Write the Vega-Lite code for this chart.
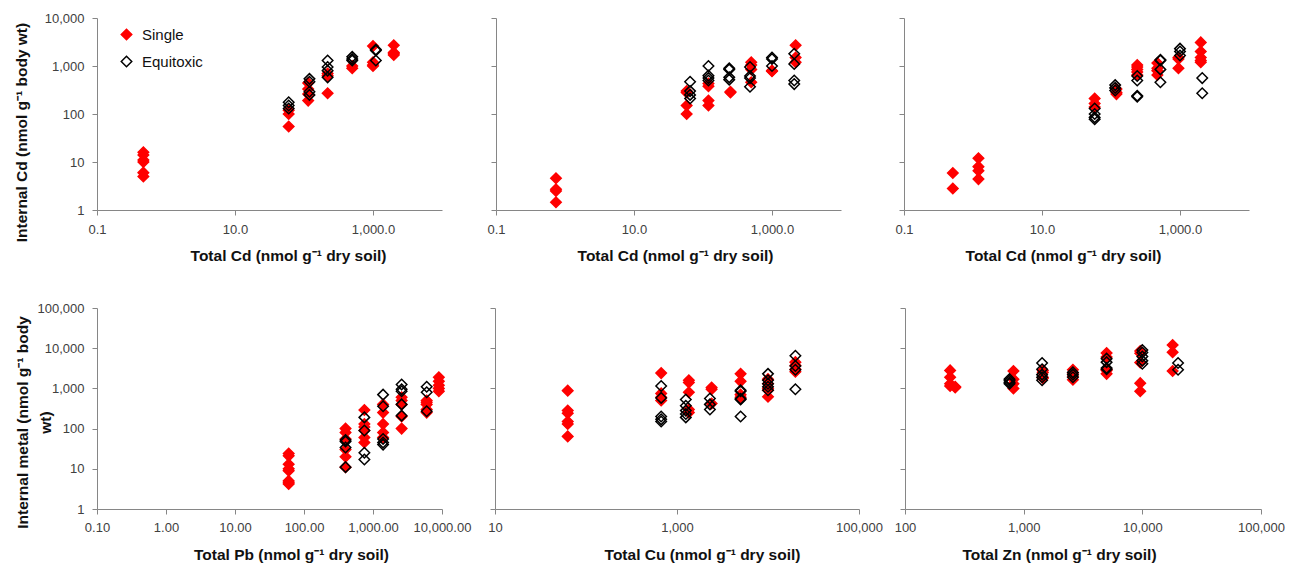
{
  "$schema": "https://vega.github.io/schema/vega-lite/v6.json",
  "background": "white",
  "padding": {"left": 13, "top": 12, "right": 5, "bottom": 0},
  "config": {
    "view": {"stroke": null},
    "font": "Liberation Sans",
    "axis": {
      "grid": false, "domainColor": "#868686", "tickColor": "#868686", "tickSize": 5,
      "labelFont": "Liberation Sans", "labelFontSize": 13, "labelColor": "#404040",
      "titleFont": "Liberation Sans", "titleFontSize": 15.5, "titleFontWeight": "bold", "titleColor": "#111111",
      "labelFlush": false, "labelOverlap": false
    },
    "point": {"shape": "diamond", "size": 110, "strokeWidth": 1.5, "opacity": 1}
  },
  "datasets": {
    "p1": [
      {"x":0.47,"y":16,"g":"Single"},{"x":0.47,"y":14,"g":"Single"},{"x":0.47,"y":11,"g":"Single"},{"x":0.47,"y":10,"g":"Single"},{"x":0.47,"y":6,"g":"Single"},{"x":0.47,"y":5,"g":"Single"},
      {"x":60,"y":120,"g":"Single"},{"x":60,"y":100,"g":"Single"},{"x":60,"y":55,"g":"Single"},
      {"x":115,"y":440,"g":"Single"},{"x":115,"y":330,"g":"Single"},{"x":115,"y":260,"g":"Single"},{"x":115,"y":190,"g":"Single"},
      {"x":220,"y":700,"g":"Single"},{"x":220,"y":630,"g":"Single"},{"x":220,"y":270,"g":"Single"},
      {"x":500,"y":1000,"g":"Single"},{"x":500,"y":900,"g":"Single"},
      {"x":1000,"y":2600,"g":"Single"},{"x":1000,"y":1200,"g":"Single"},{"x":1000,"y":1050,"g":"Single"},{"x":1000,"y":1000,"g":"Single"},
      {"x":2000,"y":2700,"g":"Single"},{"x":2000,"y":1900,"g":"Single"},{"x":2000,"y":1800,"g":"Single"},{"x":2000,"y":1700,"g":"Single"},
      {"x":60,"y":175,"g":"Equitoxic"},{"x":60,"y":150,"g":"Equitoxic"},{"x":60,"y":130,"g":"Equitoxic"},
      {"x":120,"y":540,"g":"Equitoxic"},{"x":120,"y":470,"g":"Equitoxic"},{"x":120,"y":290,"g":"Equitoxic"},{"x":120,"y":250,"g":"Equitoxic"},
      {"x":220,"y":1300,"g":"Equitoxic"},{"x":220,"y":950,"g":"Equitoxic"},{"x":220,"y":800,"g":"Equitoxic"},{"x":220,"y":580,"g":"Equitoxic"},
      {"x":500,"y":1550,"g":"Equitoxic"},{"x":500,"y":1400,"g":"Equitoxic"},{"x":500,"y":1300,"g":"Equitoxic"},
      {"x":1100,"y":2200,"g":"Equitoxic"},{"x":1100,"y":2100,"g":"Equitoxic"},{"x":1100,"y":1300,"g":"Equitoxic"}
    ],
    "p2": [
      {"x":0.74,"y":4.6,"g":"Single"},{"x":0.74,"y":2.7,"g":"Single"},{"x":0.74,"y":2.5,"g":"Single"},{"x":0.74,"y":1.45,"g":"Single"},
      {"x":58,"y":300,"g":"Single"},{"x":58,"y":280,"g":"Single"},{"x":58,"y":150,"g":"Single"},{"x":58,"y":100,"g":"Single"},
      {"x":120,"y":430,"g":"Single"},{"x":120,"y":380,"g":"Single"},{"x":120,"y":190,"g":"Single"},{"x":120,"y":150,"g":"Single"},
      {"x":250,"y":290,"g":"Single"},{"x":250,"y":280,"g":"Single"},
      {"x":500,"y":1200,"g":"Single"},{"x":500,"y":1050,"g":"Single"},{"x":500,"y":850,"g":"Single"},{"x":500,"y":460,"g":"Single"},
      {"x":1000,"y":800,"g":"Single"},{"x":1000,"y":780,"g":"Single"},
      {"x":2200,"y":2700,"g":"Single"},{"x":2200,"y":1500,"g":"Single"},{"x":2200,"y":1200,"g":"Single"},
      {"x":65,"y":470,"g":"Equitoxic"},{"x":65,"y":300,"g":"Equitoxic"},{"x":65,"y":250,"g":"Equitoxic"},{"x":65,"y":210,"g":"Equitoxic"},
      {"x":120,"y":1000,"g":"Equitoxic"},{"x":120,"y":630,"g":"Equitoxic"},{"x":120,"y":560,"g":"Equitoxic"},{"x":120,"y":500,"g":"Equitoxic"},
      {"x":240,"y":900,"g":"Equitoxic"},{"x":240,"y":850,"g":"Equitoxic"},{"x":240,"y":580,"g":"Equitoxic"},{"x":240,"y":520,"g":"Equitoxic"},
      {"x":480,"y":950,"g":"Equitoxic"},{"x":480,"y":620,"g":"Equitoxic"},{"x":480,"y":560,"g":"Equitoxic"},{"x":480,"y":370,"g":"Equitoxic"},
      {"x":1000,"y":1500,"g":"Equitoxic"},{"x":1000,"y":1400,"g":"Equitoxic"},{"x":1000,"y":1000,"g":"Equitoxic"},
      {"x":2100,"y":1800,"g":"Equitoxic"},{"x":2100,"y":1100,"g":"Equitoxic"},{"x":2100,"y":500,"g":"Equitoxic"},{"x":2100,"y":420,"g":"Equitoxic"}
    ],
    "p3": [
      {"x":0.51,"y":5.9,"g":"Single"},{"x":0.51,"y":2.8,"g":"Single"},
      {"x":1.2,"y":12,"g":"Single"},{"x":1.2,"y":8,"g":"Single"},{"x":1.2,"y":6.6,"g":"Single"},{"x":1.2,"y":4.4,"g":"Single"},
      {"x":58,"y":210,"g":"Single"},{"x":58,"y":165,"g":"Single"},{"x":58,"y":140,"g":"Single"},
      {"x":120,"y":330,"g":"Single"},{"x":120,"y":280,"g":"Single"},{"x":120,"y":260,"g":"Single"},
      {"x":240,"y":1050,"g":"Single"},{"x":240,"y":950,"g":"Single"},{"x":240,"y":850,"g":"Single"},{"x":240,"y":750,"g":"Single"},{"x":240,"y":650,"g":"Single"},
      {"x":470,"y":1150,"g":"Single"},{"x":470,"y":900,"g":"Single"},{"x":470,"y":800,"g":"Single"},{"x":470,"y":650,"g":"Single"},
      {"x":950,"y":1500,"g":"Single"},{"x":950,"y":1400,"g":"Single"},{"x":950,"y":900,"g":"Single"},
      {"x":2000,"y":3100,"g":"Single"},{"x":2000,"y":2000,"g":"Single"},{"x":2000,"y":1500,"g":"Single"},{"x":2000,"y":1300,"g":"Single"},{"x":2000,"y":1200,"g":"Single"},
      {"x":58,"y":130,"g":"Equitoxic"},{"x":58,"y":100,"g":"Equitoxic"},{"x":58,"y":85,"g":"Equitoxic"},{"x":58,"y":78,"g":"Equitoxic"},
      {"x":115,"y":400,"g":"Equitoxic"},{"x":115,"y":350,"g":"Equitoxic"},{"x":115,"y":310,"g":"Equitoxic"},
      {"x":240,"y":620,"g":"Equitoxic"},{"x":240,"y":500,"g":"Equitoxic"},{"x":240,"y":240,"g":"Equitoxic"},{"x":240,"y":230,"g":"Equitoxic"},
      {"x":520,"y":1350,"g":"Equitoxic"},{"x":520,"y":1300,"g":"Equitoxic"},{"x":520,"y":850,"g":"Equitoxic"},{"x":520,"y":460,"g":"Equitoxic"},
      {"x":1000,"y":2300,"g":"Equitoxic"},{"x":1000,"y":2000,"g":"Equitoxic"},{"x":1000,"y":1650,"g":"Equitoxic"},
      {"x":2100,"y":560,"g":"Equitoxic"},{"x":2100,"y":270,"g":"Equitoxic"}
    ],
    "p4": [
      {"x":60,"y":24,"g":"Single"},{"x":60,"y":21,"g":"Single"},{"x":60,"y":13,"g":"Single"},{"x":60,"y":10,"g":"Single"},{"x":60,"y":9,"g":"Single"},{"x":60,"y":5,"g":"Single"},{"x":60,"y":4.5,"g":"Single"},{"x":60,"y":4.2,"g":"Single"},
      {"x":400,"y":100,"g":"Single"},{"x":400,"y":80,"g":"Single"},{"x":400,"y":55,"g":"Single"},{"x":400,"y":30,"g":"Single"},{"x":400,"y":20,"g":"Single"},{"x":400,"y":11,"g":"Single"},
      {"x":750,"y":290,"g":"Single"},{"x":750,"y":130,"g":"Single"},{"x":750,"y":110,"g":"Single"},{"x":750,"y":90,"g":"Single"},{"x":750,"y":60,"g":"Single"},{"x":750,"y":45,"g":"Single"},
      {"x":1400,"y":400,"g":"Single"},{"x":1400,"y":250,"g":"Single"},{"x":1400,"y":130,"g":"Single"},{"x":1400,"y":80,"g":"Single"},{"x":1400,"y":60,"g":"Single"},
      {"x":2600,"y":600,"g":"Single"},{"x":2600,"y":500,"g":"Single"},{"x":2600,"y":400,"g":"Single"},{"x":2600,"y":200,"g":"Single"},{"x":2600,"y":100,"g":"Single"},
      {"x":6000,"y":500,"g":"Single"},{"x":6000,"y":450,"g":"Single"},{"x":6000,"y":400,"g":"Single"},{"x":6000,"y":300,"g":"Single"},{"x":6000,"y":250,"g":"Single"},
      {"x":9000,"y":1900,"g":"Single"},{"x":9000,"y":1500,"g":"Single"},{"x":9000,"y":1200,"g":"Single"},{"x":9000,"y":1000,"g":"Single"},{"x":9000,"y":850,"g":"Single"},
      {"x":400,"y":52,"g":"Equitoxic"},{"x":400,"y":48,"g":"Equitoxic"},{"x":400,"y":34,"g":"Equitoxic"},{"x":400,"y":11,"g":"Equitoxic"},
      {"x":750,"y":190,"g":"Equitoxic"},{"x":750,"y":90,"g":"Equitoxic"},{"x":750,"y":25,"g":"Equitoxic"},{"x":750,"y":17,"g":"Equitoxic"},
      {"x":1400,"y":700,"g":"Equitoxic"},{"x":1400,"y":360,"g":"Equitoxic"},{"x":1400,"y":55,"g":"Equitoxic"},{"x":1400,"y":45,"g":"Equitoxic"},{"x":1400,"y":40,"g":"Equitoxic"},
      {"x":2600,"y":1250,"g":"Equitoxic"},{"x":2600,"y":950,"g":"Equitoxic"},{"x":2600,"y":850,"g":"Equitoxic"},{"x":2600,"y":400,"g":"Equitoxic"},{"x":2600,"y":210,"g":"Equitoxic"},
      {"x":6000,"y":1100,"g":"Equitoxic"},{"x":6000,"y":800,"g":"Equitoxic"},{"x":6000,"y":270,"g":"Equitoxic"}
    ],
    "p5": [
      {"x":63,"y":880,"g":"Single"},{"x":63,"y":280,"g":"Single"},{"x":63,"y":240,"g":"Single"},{"x":63,"y":150,"g":"Single"},{"x":63,"y":130,"g":"Single"},{"x":63,"y":64,"g":"Single"},
      {"x":670,"y":2400,"g":"Single"},{"x":670,"y":750,"g":"Single"},{"x":670,"y":600,"g":"Single"},{"x":670,"y":500,"g":"Single"},
      {"x":1350,"y":1600,"g":"Single"},{"x":1350,"y":1400,"g":"Single"},{"x":1350,"y":800,"g":"Single"},{"x":1350,"y":300,"g":"Single"},{"x":1350,"y":250,"g":"Single"},
      {"x":2400,"y":1050,"g":"Single"},{"x":2400,"y":950,"g":"Single"},{"x":2400,"y":420,"g":"Single"},
      {"x":5000,"y":2300,"g":"Single"},{"x":5000,"y":1500,"g":"Single"},{"x":5000,"y":700,"g":"Single"},{"x":5000,"y":600,"g":"Single"},
      {"x":10000,"y":1700,"g":"Single"},{"x":10000,"y":1300,"g":"Single"},{"x":10000,"y":1000,"g":"Single"},{"x":10000,"y":900,"g":"Single"},{"x":10000,"y":620,"g":"Single"},
      {"x":20000,"y":4500,"g":"Single"},{"x":20000,"y":3700,"g":"Single"},{"x":20000,"y":3000,"g":"Single"},{"x":20000,"y":2600,"g":"Single"},
      {"x":670,"y":1150,"g":"Equitoxic"},{"x":670,"y":580,"g":"Equitoxic"},{"x":670,"y":200,"g":"Equitoxic"},{"x":670,"y":170,"g":"Equitoxic"},{"x":670,"y":150,"g":"Equitoxic"},
      {"x":1250,"y":530,"g":"Equitoxic"},{"x":1250,"y":370,"g":"Equitoxic"},{"x":1250,"y":280,"g":"Equitoxic"},{"x":1250,"y":230,"g":"Equitoxic"},{"x":1250,"y":190,"g":"Equitoxic"},
      {"x":2300,"y":560,"g":"Equitoxic"},{"x":2300,"y":400,"g":"Equitoxic"},{"x":2300,"y":300,"g":"Equitoxic"},
      {"x":5000,"y":900,"g":"Equitoxic"},{"x":5000,"y":850,"g":"Equitoxic"},{"x":5000,"y":550,"g":"Equitoxic"},{"x":5000,"y":530,"g":"Equitoxic"},{"x":5000,"y":200,"g":"Equitoxic"},
      {"x":10000,"y":2300,"g":"Equitoxic"},{"x":10000,"y":1600,"g":"Equitoxic"},{"x":10000,"y":1300,"g":"Equitoxic"},{"x":10000,"y":1100,"g":"Equitoxic"},{"x":10000,"y":900,"g":"Equitoxic"},
      {"x":20000,"y":6500,"g":"Equitoxic"},{"x":20000,"y":3600,"g":"Equitoxic"},{"x":20000,"y":2900,"g":"Equitoxic"},{"x":20000,"y":950,"g":"Equitoxic"}
    ],
    "p6": [
      {"x":240,"y":2800,"g":"Single"},{"x":240,"y":1900,"g":"Single"},{"x":240,"y":1300,"g":"Single"},{"x":240,"y":1150,"g":"Single"},{"x":265,"y":1100,"g":"Single"},{"x":265,"y":1050,"g":"Single"},
      {"x":820,"y":2700,"g":"Single"},{"x":820,"y":1700,"g":"Single"},{"x":820,"y":1300,"g":"Single"},{"x":820,"y":1000,"g":"Single"},
      {"x":1450,"y":2800,"g":"Single"},{"x":1450,"y":2500,"g":"Single"},{"x":1450,"y":1900,"g":"Single"},{"x":1450,"y":1800,"g":"Single"},
      {"x":2600,"y":2900,"g":"Single"},{"x":2600,"y":2400,"g":"Single"},{"x":2600,"y":2000,"g":"Single"},{"x":2600,"y":1650,"g":"Single"},
      {"x":5000,"y":7600,"g":"Single"},{"x":5000,"y":6000,"g":"Single"},{"x":5000,"y":3000,"g":"Single"},{"x":5000,"y":2800,"g":"Single"},{"x":5000,"y":2300,"g":"Single"},
      {"x":9600,"y":8500,"g":"Single"},{"x":9600,"y":7500,"g":"Single"},{"x":9600,"y":4400,"g":"Single"},{"x":9600,"y":1350,"g":"Single"},{"x":9600,"y":850,"g":"Single"},
      {"x":18000,"y":12000,"g":"Single"},{"x":18000,"y":7900,"g":"Single"},{"x":18000,"y":2700,"g":"Single"},
      {"x":760,"y":1700,"g":"Equitoxic"},{"x":760,"y":1550,"g":"Equitoxic"},{"x":760,"y":1400,"g":"Equitoxic"},{"x":760,"y":1300,"g":"Equitoxic"},
      {"x":1430,"y":4300,"g":"Equitoxic"},{"x":1430,"y":3000,"g":"Equitoxic"},{"x":1430,"y":2200,"g":"Equitoxic"},{"x":1430,"y":1900,"g":"Equitoxic"},{"x":1430,"y":1600,"g":"Equitoxic"},
      {"x":2600,"y":2500,"g":"Equitoxic"},{"x":2600,"y":2200,"g":"Equitoxic"},{"x":2600,"y":1900,"g":"Equitoxic"},
      {"x":5000,"y":5500,"g":"Equitoxic"},{"x":5000,"y":4500,"g":"Equitoxic"},{"x":5000,"y":3200,"g":"Equitoxic"},{"x":5000,"y":3000,"g":"Equitoxic"},
      {"x":10000,"y":9000,"g":"Equitoxic"},{"x":10000,"y":7800,"g":"Equitoxic"},{"x":10000,"y":6200,"g":"Equitoxic"},{"x":10000,"y":4900,"g":"Equitoxic"},{"x":10000,"y":4100,"g":"Equitoxic"},
      {"x":20000,"y":4300,"g":"Equitoxic"},{"x":20000,"y":2900,"g":"Equitoxic"}
    ]
  },
  "resolve": {"scale": {"fill": "independent", "stroke": "independent"}, "legend": {"fill": "independent", "stroke": "independent"}},
  "bounds": "full",
  "spacing": 38,
  "vconcat": [
    {
      "hconcat": [
        {
          "width": 345, "height": 192,
          "data": {"name": "p1"},
          "mark": {"type": "point", "shape": "diamond"},
          "encoding": {
            "x": {"field": "x", "type": "quantitative", "scale": {"type": "log", "domain": [0.1, 10000], "nice": false},
                  "axis": {"title": "Total Cd (nmol g⁻¹ dry soil)", "values": [0.1, 10, 1000], "format": ",.1f", "labelPadding": 8, "titleX": 191, "titlePadding": 12}},
            "y": {"field": "y", "type": "quantitative", "scale": {"type": "log", "domain": [1, 10000], "nice": false},
                  "axis": {"title": "Internal Cd (nmol g⁻¹ body wt)", "values": [1, 10, 100, 1000, 10000], "format": ",.0f", "labelPadding": 8, "titleX": -76, "titleY": 114, "titleAlign": "center", "titleBaseline": "middle", "titleAngle": -90}},
            "fill": {"field": "g", "type": "nominal", "scale": {"domain": ["Single", "Equitoxic"], "range": ["#ff0000", "transparent"]},
                     "legend": {"orient": "none", "legendX": 22, "legendY": 9, "title": null, "padding": 0, "symbolType": "diamond", "symbolSize": 110, "symbolStrokeWidth": 1.5, "labelFontSize": 15, "labelFont": "Liberation Sans", "labelColor": "#111111", "rowPadding": 10, "labelOffset": 8}},
            "stroke": {"field": "g", "type": "nominal", "scale": {"domain": ["Single", "Equitoxic"], "range": ["#ff0000", "#000000"]},
                     "legend": {"orient": "none", "legendX": 22, "legendY": 9, "title": null, "padding": 0, "symbolType": "diamond", "symbolSize": 110, "symbolStrokeWidth": 1.5, "labelFontSize": 15, "labelFont": "Liberation Sans", "labelColor": "#111111", "rowPadding": 10, "labelOffset": 8}}
          }
        },
        {
          "hconcat": [
            {
              "width": 345, "height": 192,
              "data": {"name": "p2"},
              "mark": {"type": "point", "shape": "diamond"},
              "encoding": {
                "x": {"field": "x", "type": "quantitative", "scale": {"type": "log", "domain": [0.1, 10000], "nice": false},
                      "axis": {"title": "Total Cd (nmol g⁻¹ dry soil)", "values": [0.1, 10, 1000], "format": ",.1f", "labelPadding": 8, "titleX": 179, "titlePadding": 12}},
                "y": {"field": "y", "type": "quantitative", "scale": {"type": "log", "domain": [1, 10000], "nice": false},
                      "axis": {"title": null, "values": [1, 10, 100, 1000, 10000], "labels": false}},
                "fill": {"field": "g", "type": "nominal", "scale": {"domain": ["Single", "Equitoxic"], "range": ["#ff0000", "transparent"]}, "legend": null},
                "stroke": {"field": "g", "type": "nominal", "scale": {"domain": ["Single", "Equitoxic"], "range": ["#ff0000", "#000000"]}, "legend": null}
              }
            },
            {
              "width": 345, "height": 192,
              "data": {"name": "p3"},
              "mark": {"type": "point", "shape": "diamond"},
              "encoding": {
                "x": {"field": "x", "type": "quantitative", "scale": {"type": "log", "domain": [0.1, 10000], "nice": false},
                      "axis": {"title": "Total Cd (nmol g⁻¹ dry soil)", "values": [0.1, 10, 1000], "format": ",.1f", "labelPadding": 8, "titleX": 159, "titlePadding": 12}},
                "y": {"field": "y", "type": "quantitative", "scale": {"type": "log", "domain": [1, 10000], "nice": false},
                      "axis": {"title": null, "values": [1, 10, 100, 1000, 10000], "labels": false}},
                "fill": {"field": "g", "type": "nominal", "scale": {"domain": ["Single", "Equitoxic"], "range": ["#ff0000", "transparent"]}, "legend": null},
                "stroke": {"field": "g", "type": "nominal", "scale": {"domain": ["Single", "Equitoxic"], "range": ["#ff0000", "#000000"]}, "legend": null}
              }
            }
          ],
          "spacing": 63,
          "bounds": "flush",
          "resolve": {"scale": {"fill": "independent", "stroke": "independent"}, "legend": {"fill": "independent", "stroke": "independent"}}
        }
      ],
      "spacing": 54,
      "bounds": "flush",
      "resolve": {"scale": {"fill": "independent", "stroke": "independent"}, "legend": {"fill": "independent", "stroke": "independent"}}
    },
    {
      "hconcat": [
        {
          "width": 345, "height": 201,
          "data": {"name": "p4"},
          "mark": {"type": "point", "shape": "diamond"},
          "encoding": {
            "x": {"field": "x", "type": "quantitative", "scale": {"type": "log", "domain": [0.1, 10000], "nice": false},
                  "axis": {"title": "Total Pb (nmol g⁻¹ dry soil)", "values": [0.1, 1, 10, 100, 1000, 10000], "format": ",.2f", "labelPadding": 7, "titleX": 194, "titlePadding": 13}},
            "y": {"field": "y", "type": "quantitative", "scale": {"type": "log", "domain": [1, 100000], "nice": false},
                  "axis": {"title": ["Internal metal (nmol g⁻¹ body", "wt)"], "values": [1, 10, 100, 1000, 10000, 100000], "format": ",.0f", "labelPadding": 8, "titleX": -75, "titleY": 114, "titleAlign": "center", "titleBaseline": "middle", "titleAngle": -90, "titleLineHeight": 23}},
            "fill": {"field": "g", "type": "nominal", "scale": {"domain": ["Single", "Equitoxic"], "range": ["#ff0000", "transparent"]}, "legend": null},
            "stroke": {"field": "g", "type": "nominal", "scale": {"domain": ["Single", "Equitoxic"], "range": ["#ff0000", "#000000"]}, "legend": null}
          }
        },
        {
          "hconcat": [
            {
              "width": 364, "height": 201,
              "data": {"name": "p5"},
              "mark": {"type": "point", "shape": "diamond"},
              "encoding": {
                "x": {"field": "x", "type": "quantitative", "scale": {"type": "log", "domain": [10, 100000], "nice": false},
                      "axis": {"title": "Total Cu (nmol g⁻¹ dry soil)", "values": [10, 1000, 100000], "format": ",.0f", "labelPadding": 7, "titleX": 207, "titlePadding": 13}},
                "y": {"field": "y", "type": "quantitative", "scale": {"type": "log", "domain": [1, 100000], "nice": false},
                      "axis": {"title": null, "values": [1, 10, 100, 1000, 10000, 100000], "labels": false}},
                "fill": {"field": "g", "type": "nominal", "scale": {"domain": ["Single", "Equitoxic"], "range": ["#ff0000", "transparent"]}, "legend": null},
                "stroke": {"field": "g", "type": "nominal", "scale": {"domain": ["Single", "Equitoxic"], "range": ["#ff0000", "#000000"]}, "legend": null}
              }
            },
            {
              "width": 356, "height": 201,
              "data": {"name": "p6"},
              "mark": {"type": "point", "shape": "diamond"},
              "encoding": {
                "x": {"field": "x", "type": "quantitative", "scale": {"type": "log", "domain": [100, 100000], "nice": false},
                      "axis": {"title": "Total Zn (nmol g⁻¹ dry soil)", "values": [100, 1000, 10000, 100000], "format": ",.0f", "labelPadding": 7, "titleX": 154, "titlePadding": 13}},
                "y": {"field": "y", "type": "quantitative", "scale": {"type": "log", "domain": [1, 100000], "nice": false},
                      "axis": {"title": null, "values": [1, 10, 100, 1000, 10000, 100000], "labels": false}},
                "fill": {"field": "g", "type": "nominal", "scale": {"domain": ["Single", "Equitoxic"], "range": ["#ff0000", "transparent"]}, "legend": null},
                "stroke": {"field": "g", "type": "nominal", "scale": {"domain": ["Single", "Equitoxic"], "range": ["#ff0000", "#000000"]}, "legend": null}
              }
            }
          ],
          "spacing": 46,
          "bounds": "flush",
          "resolve": {"scale": {"fill": "independent", "stroke": "independent"}, "legend": {"fill": "independent", "stroke": "independent"}}
        }
      ],
      "spacing": 53,
      "bounds": "flush",
      "resolve": {"scale": {"fill": "independent", "stroke": "independent"}, "legend": {"fill": "independent", "stroke": "independent"}}
    }
  ]
}
